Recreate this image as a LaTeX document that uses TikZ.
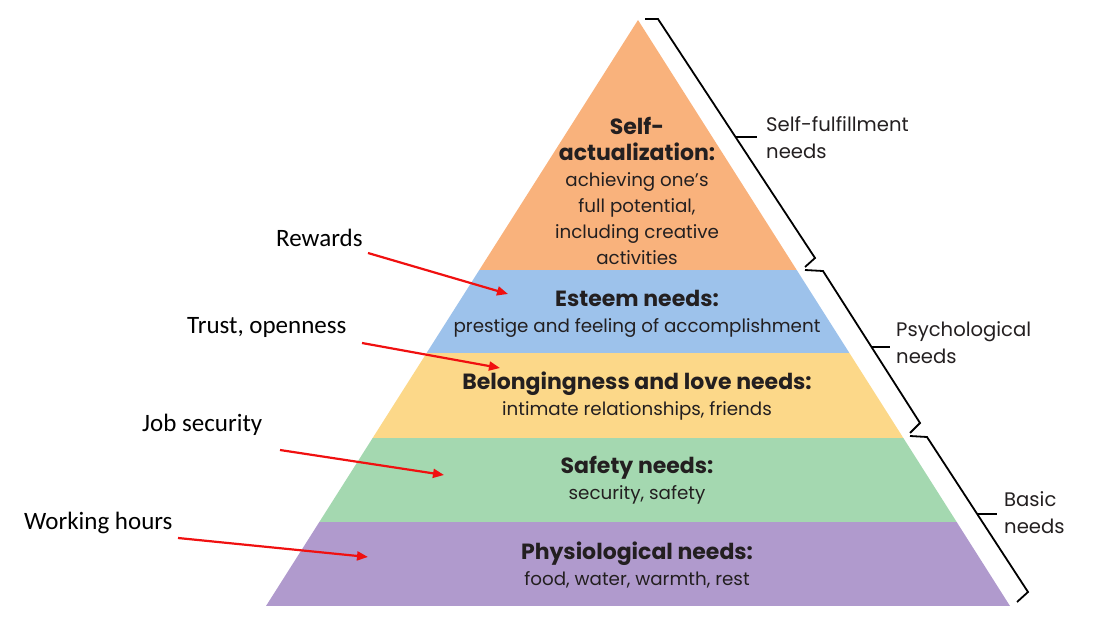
\documentclass[tikz,border=0pt]{standalone}
\usepackage{fontspec}
\usetikzlibrary{arrows.meta}
\setmainfont{Poppins}
\newfontfamily\calfont{Carlito}
\definecolor{ink}{HTML}{231F20}
\definecolor{peach}{HTML}{F9B27C}
\definecolor{sky}{HTML}{9DC2EB}
\definecolor{butter}{HTML}{FCD889}
\definecolor{mint}{HTML}{A4D8B0}
\definecolor{lilac}{HTML}{B09ACD}
\definecolor{alarm}{HTML}{F01010}
\newcommand\hd[1]{{\fontsize{22}{26}\selectfont\bfseries #1}}

\begin{document}
\begin{tikzpicture}[x=1pt,y=-1pt,every node/.style={text=ink,inner sep=0pt},
  lvl/.style={align=center,font=\fontsize{18.3}{26}\selectfont},
  side/.style={anchor=west,align=left,font=\fontsize{19.6}{27}\selectfont},
  note/.style={anchor=west,font=\calfont\fontsize{25}{28}\selectfont,text=black},
  pointer/.style={draw=alarm,line width=2.2pt,-{Triangle[length=11pt,width=9pt]}},
  brace/.style={draw=black,line width=1.8pt,line join=miter}]
\useasboundingbox (0,0) rectangle (1119,642);
% pyramid bands, cut out of one triangle
\begin{scope}
\clip (638,20) -- (1010,606) -- (266,606) -- cycle;
\fill[peach] (200,0) rectangle (1100,270);
\fill[sky] (200,270) rectangle (1100,353);
\fill[butter] (200,353) rectangle (1100,438);
\fill[mint] (200,438) rectangle (1100,522);
\fill[lilac] (200,522) rectangle (1100,606);
\end{scope}
% band texts
\node[lvl] (selfact) at (637,191) {\hd{Self-}\\\hd{actualization:}\\achieving one’s\\full potential,\\including creative\\activities};
\node[lvl] (esteem) at (637,314) {\hd{Esteem needs:}\\prestige and feeling of accomplishment};
\node[lvl] (belong) at (637,396) {\hd{Belongingness and love needs:}\\intimate relationships, friends};
\node[lvl] (safety) at (637,480) {\hd{Safety needs:}\\security, safety};
\node[lvl] (physio) at (637,565) {\hd{Physiological needs:}\\food, water, warmth, rest};
% braces on the right side
\draw[brace] (645,19) -- (658,19) -- (815,258) -- (805,267);
\draw[brace] (736,137) -- (757,137);
\draw[brace] (805,270) -- (823,271) -- (920,423) -- (910,433);
\draw[brace] (872,347) -- (890,347);
\draw[brace] (910,436) -- (927,437) -- (1028,592) -- (1017,602);
\draw[brace] (977,514) -- (997,514);
\node[side] (fulfil) at (766,138) {Self-fulfillment\\needs};
\node[side] (psych) at (896,343) {Psychological\\needs};
\node[side] (basic) at (1004,513) {Basic\\needs};
% workplace factors pointing into the bands
\node[note] (rewards) at (276,238) {Rewards};
\node[note] (trust) at (187,327) {Trust, openness};
\node[note] (jobsec) at (142,425) {Job security};
\node[note] (hours) at (24,523) {Working hours};
\coordinate (rewards-s) at (368,253);
\coordinate (rewards-e) at (508,294);
\coordinate (trust-s) at (362,343);
\coordinate (trust-e) at (500,368);
\coordinate (jobsec-s) at (280,450);
\coordinate (jobsec-e) at (444,475);
\coordinate (hours-s) at (178,538);
\coordinate (hours-e) at (368,557);
\draw[pointer] (rewards-s) -- (rewards-e);
\draw[pointer] (trust-s) -- (trust-e);
\draw[pointer] (jobsec-s) -- (jobsec-e);
\draw[pointer] (hours-s) -- (hours-e);
\end{tikzpicture}
\end{document}
